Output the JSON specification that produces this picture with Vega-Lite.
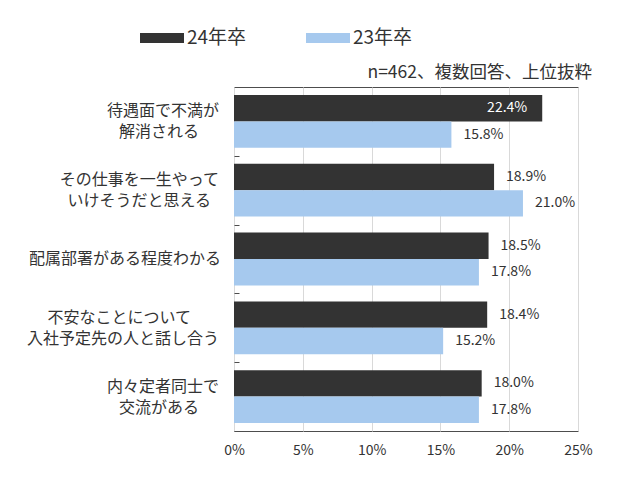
{
  "$schema": "https://vega.github.io/schema/vega-lite/v6.json",
  "width": 344,
  "height": 344,
  "autosize": {"type": "none"},
  "padding": {"left": 234, "top": 87, "right": 62, "bottom": 48},
  "background": "white",
  "config": {
    "font": "Noto Sans CJK JP",
    "view": {"stroke": "#4d4d4d", "strokeWidth": 1}
  },
  "title": {
    "text": "n=462、複数回答、上位抜粋",
    "anchor": "end",
    "frame": "group",
    "orient": "top",
    "fontSize": 17.5,
    "fontWeight": "normal",
    "color": "#333333",
    "baseline": "alphabetic",
    "offset": -79,
    "dx": 14
  },
  "data": {
    "values": [
      {"item": "待遇面で不満が\n解消される\u3000\u2005\u2060", "year": "24年卒", "value": 0.224},
      {"item": "待遇面で不満が\n解消される\u3000\u2005\u2060", "year": "23年卒", "value": 0.158},
      {"item": "その仕事を一生やって\nいけそうだと思える\u2002\u2060", "year": "24年卒", "value": 0.189},
      {"item": "その仕事を一生やって\nいけそうだと思える\u2002\u2060", "year": "23年卒", "value": 0.210},
      {"item": "配属部署がある程度わかる", "year": "24年卒", "value": 0.185},
      {"item": "配属部署がある程度わかる", "year": "23年卒", "value": 0.178},
      {"item": "不安なことについて\u3000\u2002\u2005\u2060\n入社予定先の人と話し合う", "year": "24年卒", "value": 0.184},
      {"item": "不安なことについて\u3000\u2002\u2005\u2060\n入社予定先の人と話し合う", "year": "23年卒", "value": 0.152},
      {"item": "内々定者同士で\n交流がある\u3000\u2005\u2060", "year": "24年卒", "value": 0.180},
      {"item": "内々定者同士で\n交流がある\u3000\u2005\u2060", "year": "23年卒", "value": 0.178}
    ]
  },
  "encoding": {
    "y": {
      "field": "item",
      "type": "nominal",
      "sort": null,
      "scale": {"paddingInner": 0.233, "paddingOuter": 0.1165},
      "axis": {
        "title": null,
        "domain": false,
        "grid": false,
        "ticks": true,
        "labels": false,
        "tickSize": -5,
        "tickOffset": 34.4,
        "tickColor": "#4d4d4d"
      }
    },
    "x": {
      "field": "value",
      "type": "quantitative",
      "scale": {"domain": [0, 0.25], "nice": false},
      "axis": {
        "title": null,
        "values": [0, 0.05, 0.1, 0.15, 0.2, 0.25],
        "format": ".0%",
        "domain": false,
        "ticks": false,
        "grid": true,
        "gridColor": "#d9d9d9",
        "labelPadding": 12,
        "labelFontSize": 14,
        "labelColor": "#333333",
        "labelFlush": false,
        "labelBound": false
      }
    }
  },
  "layer": [
    {
      "mark": {"type": "bar"},
      "encoding": {
        "yOffset": {
          "field": "year",
          "type": "nominal",
          "sort": ["24年卒", "23年卒"],
          "scale": {"paddingInner": 0, "paddingOuter": 0}
        },
        "color": {
          "field": "year",
          "type": "nominal",
          "scale": {"domain": ["24年卒", "23年卒"], "range": ["#333333", "#a6c9ee"]},
          "legend": {
            "orient": "none",
            "legendX": -94,
            "legendY": -71,
            "direction": "horizontal",
            "title": null,
            "symbolType": "M-1,-0.227H1V0.227H-1Z",
            "symbolSize": 1936,
            "symbolStrokeWidth": 0,
            "symbolOpacity": 1,
            "labelFontSize": 19,
            "labelColor": "#333333",
            "labelOffset": 3,
            "columnPadding": 59
          }
        }
      }
    },
    {
      "transform": [{"filter": "datum.value <= 0.22"}],
      "mark": {"type": "text", "align": "left", "baseline": "middle", "dx": 12, "fontSize": 14, "color": "#333333"},
      "encoding": {
        "yOffset": {"field": "year", "type": "nominal", "sort": ["24年卒", "23年卒"]},
        "text": {"field": "value", "type": "quantitative", "format": ".1%"}
      }
    },
    {
      "transform": [{"filter": "datum.value > 0.22"}],
      "mark": {"type": "text", "align": "right", "baseline": "middle", "dx": -15, "fontSize": 14, "color": "white"},
      "encoding": {
        "yOffset": {"field": "year", "type": "nominal", "sort": ["24年卒", "23年卒"]},
        "text": {"field": "value", "type": "quantitative", "format": ".1%"}
      }
    },
    {
      "transform": [{"filter": "datum.year == '24年卒' && indexof(datum.item, '\\n') >= 0"}],
      "mark": {"type": "text", "align": "right", "baseline": "middle", "lineBreak": "\n", "lineHeight": 21, "dx": -15, "dy": -10, "fontSize": 16, "color": "#333333"},
      "encoding": {
        "x": {"datum": 0},
        "text": {"field": "item", "type": "nominal"}
      }
    },
    {
      "transform": [{"filter": "datum.year == '24年卒' && indexof(datum.item, '\\n') < 0"}],
      "mark": {"type": "text", "align": "right", "baseline": "middle", "dx": -13, "fontSize": 16, "color": "#333333"},
      "encoding": {
        "x": {"datum": 0},
        "text": {"field": "item", "type": "nominal"}
      }
    }
  ]
}
